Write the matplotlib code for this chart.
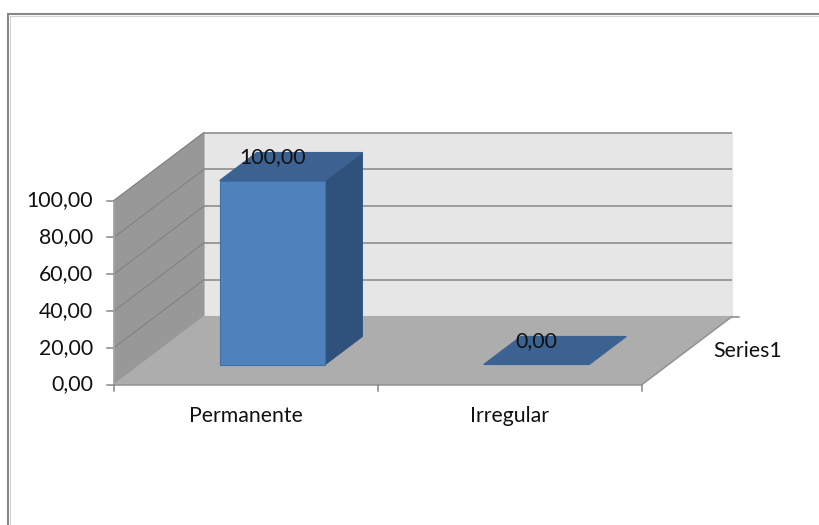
import matplotlib
matplotlib.use("Agg")
import matplotlib.pyplot as plt
from matplotlib.patches import Polygon

categories = ["Permanente", "Irregular"]
values = [100.0, 0.0]
y_ticks = [0, 20, 40, 60, 80, 100]
series_name = "Series1"

ORIGIN_X, ORIGIN_Y = 114, 384.5
CAT_W = 264
VALUE_H = 1.84
DEPTH_X, DEPTH_Y = 90, 68

FRONT = "#4f81bd"
SIDE = "#2f527c"
TOP = "#3c6291"
LINE = "#868686"
FONT_SIZE = 15.3

plt.rcParams["font.family"] = ["Lato", "DejaVu Sans"]


def project(cat, val, depth):
    # oblique projection: category along x, value up, depth to the back right
    return (ORIGIN_X + cat * CAT_W + depth * DEPTH_X,
            ORIGIN_Y - val * VALUE_H - depth * DEPTH_Y)


def face(ax, corners, color, edge=None, zorder=1):
    pts = [project(*c) for c in corners]
    ax.add_patch(Polygon(pts, closed=True, facecolor=color, edgecolor=edge or color,
                         linewidth=0.8, zorder=zorder))


def line(ax, a, b, color=LINE, lw=1.1, zorder=2):
    xs, ys = zip(project(*a), project(*b))
    ax.plot(xs, ys, color=color, lw=lw, zorder=zorder, solid_capstyle="butt")


def fmt(v):
    return f"{v:.2f}".replace(".", ",")


fig = plt.figure(figsize=(8.2, 5.25), dpi=100)
ax = fig.add_axes([0, 0, 1, 1])
ax.set_xlim(0, 820)
ax.set_ylim(525, 0)
ax.axis("off")

# outer frame, open to the right and the bottom
ax.plot([8, 8, 820], [525, 13.5, 13.5], color="#878787", lw=1.5, zorder=1, solid_joinstyle="miter")
ax.plot([10, 10, 820], [525, 15.5, 15.5], color="#d4d4d4", lw=0.8, zorder=1)

n = len(categories)
top = max(y_ticks)

# walls and floor
face(ax, [(0, 0, 1), (n, 0, 1), (n, top, 1), (0, top, 1)], "#e6e6e6")
face(ax, [(0, 0, 0), (0, 0, 1), (0, top, 1), (0, top, 0)], "#989898")
face(ax, [(0, 0, 0), (n, 0, 0), (n, 0, 1), (0, 0, 1)], "#adadad")

# gridlines and value ticks
for t in y_ticks:
    if t > 0:
        line(ax, (0, t, 0), (0, t, 1), color="#828282", lw=0.8)
        line(ax, (0, t, 1), (n, t, 1))
    x, y = project(0, t, 0)
    ax.plot([x - 7, x], [y, y], color=LINE, lw=1.1, zorder=2)
    ax.text(x - 21, y, fmt(t), ha="right", va="center", fontsize=FONT_SIZE, color="#111111")

# axis edges
line(ax, (0, 0, 0), (0, top, 0), color="#a6a6a6")
line(ax, (0, 0, 0), (n, 0, 0), color="#949494")
line(ax, (n, 0, 0), (n, 0, 1), color="#949494")

# category ticks and labels
for i in range(n + 1):
    x, y = project(i, 0, 0)
    ax.plot([x, x], [y, y + 6], color=LINE, lw=1.1, zorder=2)
for i, name in enumerate(categories):
    x, y = project(i + 0.5, 0, 0)
    ax.text(x, 416, name, ha="center", va="center", fontsize=FONT_SIZE, color="#111111")

# depth axis tick and series name
x, y = project(n, 0, 1)
ax.plot([x, x + 7], [y, y], color=LINE, lw=1.1, zorder=2)
ax.text(713, 351, series_name, ha="left", va="center", fontsize=FONT_SIZE, color="#111111")

# bars
half_w = 0.2
d0, d1 = 0.294, 0.706
for i, v in enumerate(values):
    l, r = i + 0.5 - half_w, i + 0.5 + half_w
    if v > 0:
        face(ax, [(r, 0, d0), (r, 0, d1), (r, v, d1), (r, v, d0)], SIDE, zorder=3)
        face(ax, [(l, 0, d0), (r, 0, d0), (r, v, d0), (l, v, d0)], FRONT, edge="#3f6fa8", zorder=3)
    face(ax, [(l, v, d0), (r, v, d0), (r, v, d1), (l, v, d1)], TOP, zorder=3)
    x, y = project(i + 0.5, v, 0.5)
    ax.text(x - 18.5, y - 9.5, fmt(v), ha="center", va="center", fontsize=FONT_SIZE, color="#111111", zorder=4)

fig.savefig("out.png", dpi=100)
